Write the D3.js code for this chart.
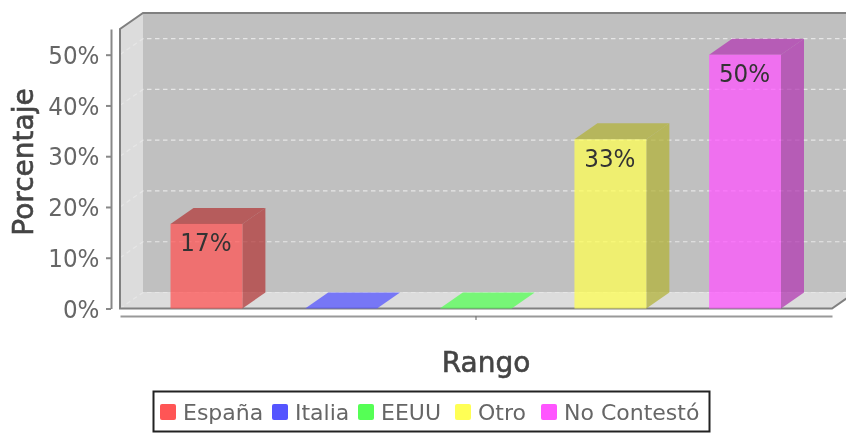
<!DOCTYPE html>
<html>
<head>
<meta charset="utf-8">
<script src="https://cdn.jsdelivr.net/npm/d3@7"></script>
<style>
html, body { margin: 0; padding: 0; background: #fff; }
svg { display: block; filter: blur(0.65px); font-family: "DejaVu Sans", sans-serif; }
</style>
</head>
<body>
<svg width="846" height="433"></svg>
<script>
let categories = ["España", "Italia", "EEUU", "Otro", "No Contestó"];
let values = [16.67, 0, 0, 33.33, 50];
let labels = ["17%", "", "", "33%", "50%"];
let colors = ["#ff5555", "#5555ff", "#55ff55", "#ffff55", "#ff55ff"];
let yTicks = [0, 10, 20, 30, 40, 50];
let xTitle = "Rango";
let yTitle = "Porcentaje";

let svg = d3.select("svg"),
    plotLeft = 120, plotRight = 832, plotBottom = 308.5, plotTop = 29,
    dx = 23, dy = -16;

let y = d3.scaleLinear().domain([0, 55.06]).range([plotBottom, plotTop]);
let x = d3.scaleBand().domain(categories).range([170.5, 781]).paddingInner(0.466);
let xAxisScale = d3.scaleBand().domain([""]).range([plotLeft, plotRight]);

function poly(points) {
    return "M" + points.map(p => p.join(",")).join("L") + "Z";
}

// the reference glyphs are a bit narrower than DejaVu at the same height
function squeeze(selection, k) {
    selection.each(function () {
        if (this.textContent) {
            d3.select(this)
                .attr("textLength", this.getComputedTextLength() * k)
                .attr("lengthAdjust", "spacingAndGlyphs");
        }
    });
}

// walls
svg.append("path")
    .attr("d", poly([[plotLeft + dx, plotTop + dy], [plotRight + dx, plotTop + dy], [plotRight + dx, plotBottom + dy], [plotLeft + dx, plotBottom + dy]]))
    .attr("fill", "#c0c0c0");
svg.append("path")
    .attr("d", poly([[plotLeft, plotTop], [plotLeft + dx, plotTop + dy], [plotLeft + dx, plotBottom + dy], [plotRight + dx, plotBottom + dy], [plotRight, plotBottom], [plotLeft, plotBottom]]))
    .attr("fill", "#dcdcdc");

// gridlines, back wall and left wall
let grid = svg.append("g")
    .attr("fill", "none")
    .attr("stroke", "#e6e6e6")
    .attr("stroke-width", 1.2)
    .attr("stroke-dasharray", "4.5 3.5");
grid.selectAll("path")
    .data(yTicks)
    .join("path")
    .attr("d", d => "M" + plotLeft + "," + y(d) + "L" + (plotLeft + dx) + "," + (y(d) + dy) + "L" + (plotRight + dx) + "," + (y(d) + dy));

// plot outline
svg.append("path")
    .attr("d", "M" + (plotRight + dx) + "," + (plotBottom + dy) + "L" + plotRight + "," + plotBottom + "L" + plotLeft + "," + plotBottom + "L" + plotLeft + "," + plotTop + "L" + (plotLeft + dx) + "," + (plotTop + dy) + "L" + (plotRight + dx) + "," + (plotTop + dy))
    .attr("fill", "none")
    .attr("stroke", "#808080")
    .attr("stroke-width", 2);

// bars
let bars = svg.append("g")
    .selectAll("g")
    .data(categories)
    .join("g")
    .attr("fill-opacity", 0.75);

bars.append("path")
    .attr("d", (d, i) => {
        let x1 = x(d) + x.bandwidth();
        return poly([[x1, y(values[i])], [x1 + dx, y(values[i]) + dy], [x1 + dx, plotBottom + dy], [x1, plotBottom]]);
    })
    .attr("fill", (d, i) => d3.color(colors[i]).darker(1));
bars.append("path")
    .attr("d", (d, i) => {
        let x0 = x(d), x1 = x0 + x.bandwidth(), yv = y(values[i]);
        return poly([[x0, yv], [x0 + dx, yv + dy], [x1 + dx, yv + dy], [x1, yv]]);
    })
    .attr("fill", (d, i) => values[i] === 0 ? colors[i] : d3.color(colors[i]).darker(1));
bars.append("rect")
    .attr("x", d => x(d))
    .attr("y", (d, i) => y(values[i]))
    .attr("width", x.bandwidth())
    .attr("height", (d, i) => plotBottom - y(values[i]))
    .attr("fill", (d, i) => colors[i]);

// value labels
svg.append("g")
    .selectAll("text")
    .data(categories)
    .join("text")
    .attr("x", d => x(d) + x.bandwidth() / 2 - 0.5)
    .attr("y", (d, i) => y(values[i]) + 27.5)
    .attr("text-anchor", "middle")
    .attr("font-size", 24)
    .attr("fill", "#333")
    .text((d, i) => labels[i])
    .call(squeeze, 0.96);

// axes
let yAxis = svg.append("g")
    .attr("transform", "translate(111,0)")
    .call(d3.axisLeft(y).tickValues(yTicks).tickSizeOuter(0).tickSizeInner(5).tickPadding(6).tickFormat(d => d + "%"));
let xAxis = svg.append("g")
    .attr("transform", "translate(0,316)")
    .call(d3.axisBottom(xAxisScale).tickSizeOuter(0).tickSizeInner(4));
yAxis.selectAll("path,line").attr("stroke", "#888").attr("stroke-width", 2);
xAxis.selectAll("path,line").attr("stroke", "#999").attr("stroke-width", 2);
xAxis.selectAll("line").attr("stroke", "#777").attr("stroke-width", 1.2);
yAxis.selectAll("text")
    .attr("font-family", "DejaVu Sans")
    .attr("font-size", 24)
    .attr("x", -11.5)
    .attr("dy", "0.36em")
    .attr("fill", "#666")
    .call(squeeze, 0.96);

// axis titles
svg.append("text")
    .attr("transform", "translate(33,162) rotate(-90)")
    .attr("text-anchor", "middle")
    .attr("font-size", 28)
    .attr("fill", "#444")
    .attr("stroke", "#444")
    .attr("stroke-width", 0.6)
    .text(yTitle);
svg.append("text")
    .attr("x", 486)
    .attr("y", 372)
    .attr("text-anchor", "middle")
    .attr("font-size", 28)
    .attr("fill", "#444")
    .attr("stroke", "#444")
    .attr("stroke-width", 0.6)
    .text(xTitle);

// legend
let legendX = d3.scaleOrdinal().domain(categories).range([160, 272, 358, 455, 541]);
let legend = svg.append("g");
legend.append("rect")
    .attr("x", 153.5)
    .attr("y", 391.5)
    .attr("width", 556)
    .attr("height", 40)
    .attr("fill", "#fff")
    .attr("stroke", "#222")
    .attr("stroke-width", 2);
let items = legend.selectAll("g")
    .data(categories)
    .join("g")
    .attr("transform", d => "translate(" + legendX(d) + ",0)");
items.append("rect")
    .attr("y", 404)
    .attr("width", 16)
    .attr("height", 16)
    .attr("rx", 2)
    .attr("fill", (d, i) => colors[i]);
items.append("text")
    .attr("x", 23)
    .attr("y", 420)
    .attr("font-size", 22)
    .attr("fill", "#666")
    .text(d => d);
</script>
</body>
</html>
